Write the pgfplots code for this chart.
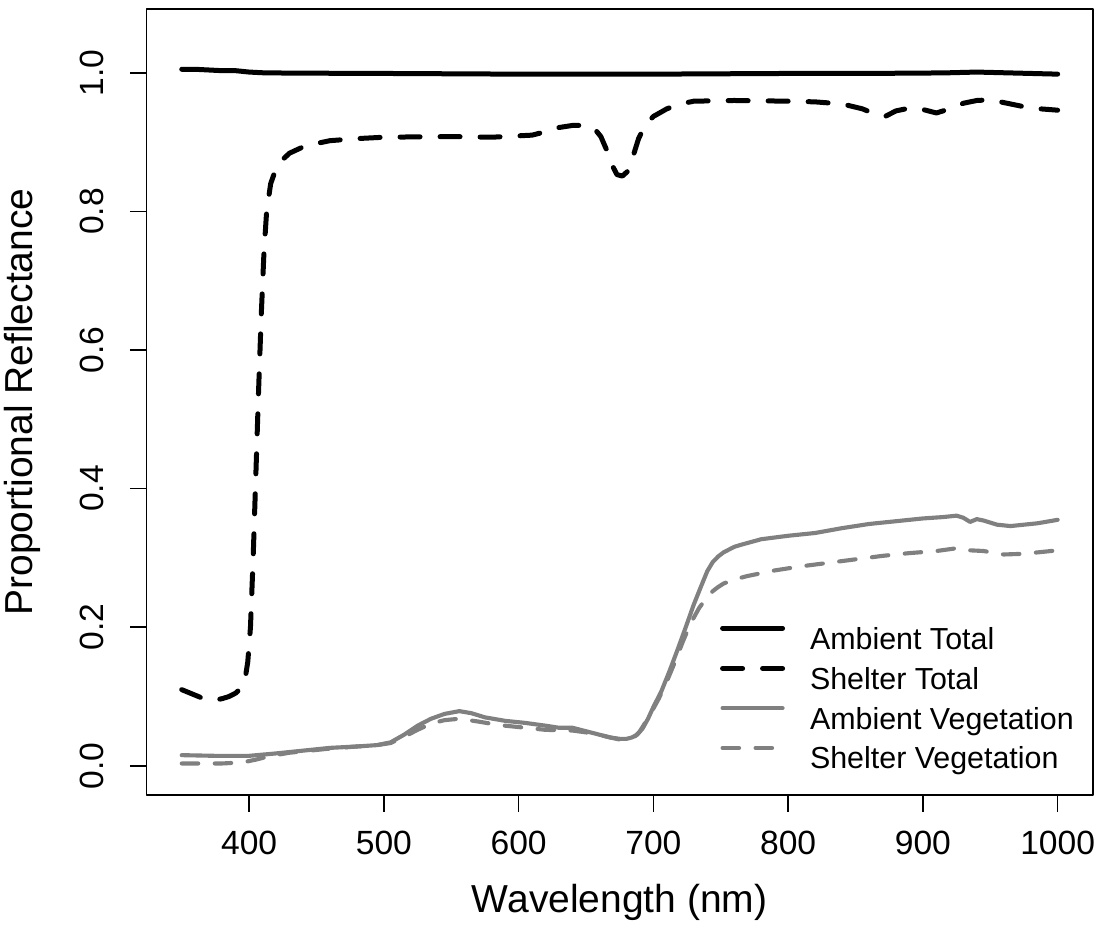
\documentclass[border=0pt]{standalone}
\usepackage{fontspec}
\setmainfont{Liberation Sans}
\usepackage{pgfplots}
\usepackage{pgfplotstable}
\pgfplotsset{compat=1.18}

\definecolor{veggray}{gray}{0.5}

% Reflectance spectra (wavelength in nm, proportional reflectance)
\pgfplotstableread{
nm refl
350 1.005
360 1.005
370 1.004
380 1.003
390 1.003
400 1.001
410 1.000
430 0.9995
500 0.999
600 0.998
700 0.998
800 0.999
850 0.999
900 0.9995
920 1.000
940 1.001
960 1.000
980 0.999
1000 0.998
}\ambienttotal

\pgfplotstableread{
nm refl
350 0.110
355 0.106
360 0.102
365 0.098
370 0.096
375 0.095
380 0.097
385 0.100
390 0.105
394 0.112
397 0.125
399 0.150
401 0.200
403 0.300
405 0.420
407 0.540
409 0.650
411 0.740
413 0.800
416 0.840
420 0.862
425 0.875
430 0.884
440 0.893
450 0.898
460 0.902
480 0.905
500 0.907
550 0.908
580 0.907
600 0.909
610 0.910
620 0.915
630 0.921
640 0.924
650 0.924
656 0.920
661 0.908
665 0.890
669 0.868
673 0.853
677 0.851
681 0.858
685 0.880
689 0.905
694 0.925
700 0.937
710 0.948
720 0.955
730 0.959
760 0.960
800 0.959
820 0.958
840 0.955
855 0.948
865 0.940
872 0.937
880 0.945
890 0.949
900 0.947
910 0.942
920 0.948
930 0.956
940 0.960
950 0.961
965 0.955
980 0.949
1000 0.946
}\sheltertotal

\pgfplotstableread{
nm refl
350 0.0155
375 0.0145
400 0.0145
420 0.018
440 0.022
460 0.026
480 0.028
495 0.030
505 0.034
515 0.045
525 0.058
535 0.068
545 0.075
556 0.079
565 0.076
575 0.070
590 0.065
605 0.062
620 0.058
630 0.055
640 0.055
650 0.050
660 0.045
668 0.041
675 0.039
680 0.039
684 0.041
688 0.045
692 0.054
696 0.068
700 0.085
706 0.108
712 0.137
718 0.168
724 0.200
730 0.233
736 0.262
740 0.281
744 0.294
748 0.302
752 0.308
756 0.312
760 0.316
765 0.319
780 0.327
800 0.332
820 0.336
840 0.343
860 0.349
880 0.353
900 0.357
915 0.359
925 0.361
930 0.358
935 0.352
940 0.356
945 0.354
955 0.348
965 0.346
975 0.348
985 0.350
1000 0.355
}\ambientveg

\pgfplotstableread{
nm refl
350 0.0035
380 0.0035
395 0.005
405 0.009
415 0.014
430 0.019
460 0.025
480 0.028
495 0.030
505 0.033
515 0.042
525 0.052
535 0.061
545 0.066
556 0.068
570 0.064
585 0.059
600 0.056
620 0.052
640 0.051
655 0.047
668 0.041
675 0.038
682 0.039
686 0.042
690 0.050
697 0.072
704 0.097
710 0.122
716 0.150
722 0.180
728 0.207
734 0.228
740 0.244
744 0.252
748 0.258
752 0.263
756 0.266
762 0.270
770 0.274
790 0.282
810 0.288
830 0.293
850 0.298
870 0.303
890 0.307
910 0.310
925 0.314
935 0.311
945 0.310
960 0.305
975 0.306
990 0.309
1000 0.311
}\shelterveg

\begin{document}
\begin{tikzpicture}
\begin{axis}[
  scale only axis,
  width=473bp, height=393bp,
  xmin=324, xmax=1026,
  ymin=-0.042, ymax=1.092,
  xtick={400,500,600,700,800,900,1000},
  ytick={0,0.2,0.4,0.6,0.8,1.0},
  xtick pos=bottom, ytick pos=left,
  tick align=outside,
  major tick length=8.35bp,
  axis line style={line width=0.8bp},
  every tick/.style={black, line width=0.8bp},
  /pgf/number format/assume math mode=true,
  /pgf/number format/1000 sep={},
  yticklabel style={/pgf/number format/fixed, /pgf/number format/fixed zerofill, /pgf/number format/precision=1},
  xticklabel style={font=\fontsize{16.8bp}{20bp}\selectfont, anchor=base, yshift=-21.5bp},
  yticklabel style={font=\fontsize{16.8bp}{20bp}\selectfont, rotate=90, anchor=base, yshift=13bp},
  xlabel={Wavelength (nm)},
  ylabel={Proportional Reflectance},
  xlabel style={at={(axis description cs:0.5,0)}, anchor=base, yshift=-58.5bp, font=\fontsize{19.5bp}{23bp}\selectfont},
  ylabel style={at={([xshift=-57bp]axis description cs:0,0.5)}, anchor=base, font=\fontsize{19.5bp}{23bp}\selectfont},
  legend image code/.code={\draw[#1] (0bp,6.7bp) -- (30bp,6.7bp);},
  legend cell align=left,
  legend style={at={(axis description cs:0.6061,0.2154)}, anchor=north west,
    draw=none, fill=none, inner sep=0pt, outer sep=0pt,
    row sep=5bp, column sep=12.5bp,
    font=\fontsize{15.2bp}{18bp}\selectfont,
    nodes={inner sep=0pt, text height=10.9bp, text depth=3.4bp}},
  line join=round,
]
\addplot[black, line width=2.5bp, line cap=round] table[x=nm, y=refl] {\ambienttotal};
\addlegendentry{Ambient Total}
\addplot[black, line width=2.5bp, line cap=round, dash pattern=on 10bp off 10bp] table[x=nm, y=refl] {\sheltertotal};
\addlegendentry{Shelter Total}
\addplot[veggray, line width=2.06bp, line cap=round] table[x=nm, y=refl] {\ambientveg};
\addlegendentry{Ambient Vegetation}
\addplot[veggray, line width=2.06bp, line cap=round, dash pattern=on 8.25bp off 8.25bp] table[x=nm, y=refl] {\shelterveg};
\addlegendentry{Shelter Vegetation}
\end{axis}
\pgfresetboundingbox
\path[use as bounding box] ([shift={(-73.35bp,-67bp)}]current axis.south west) rectangle ([shift={(6.65bp,4.5bp)}]current axis.north east);
\end{tikzpicture}
\end{document}
